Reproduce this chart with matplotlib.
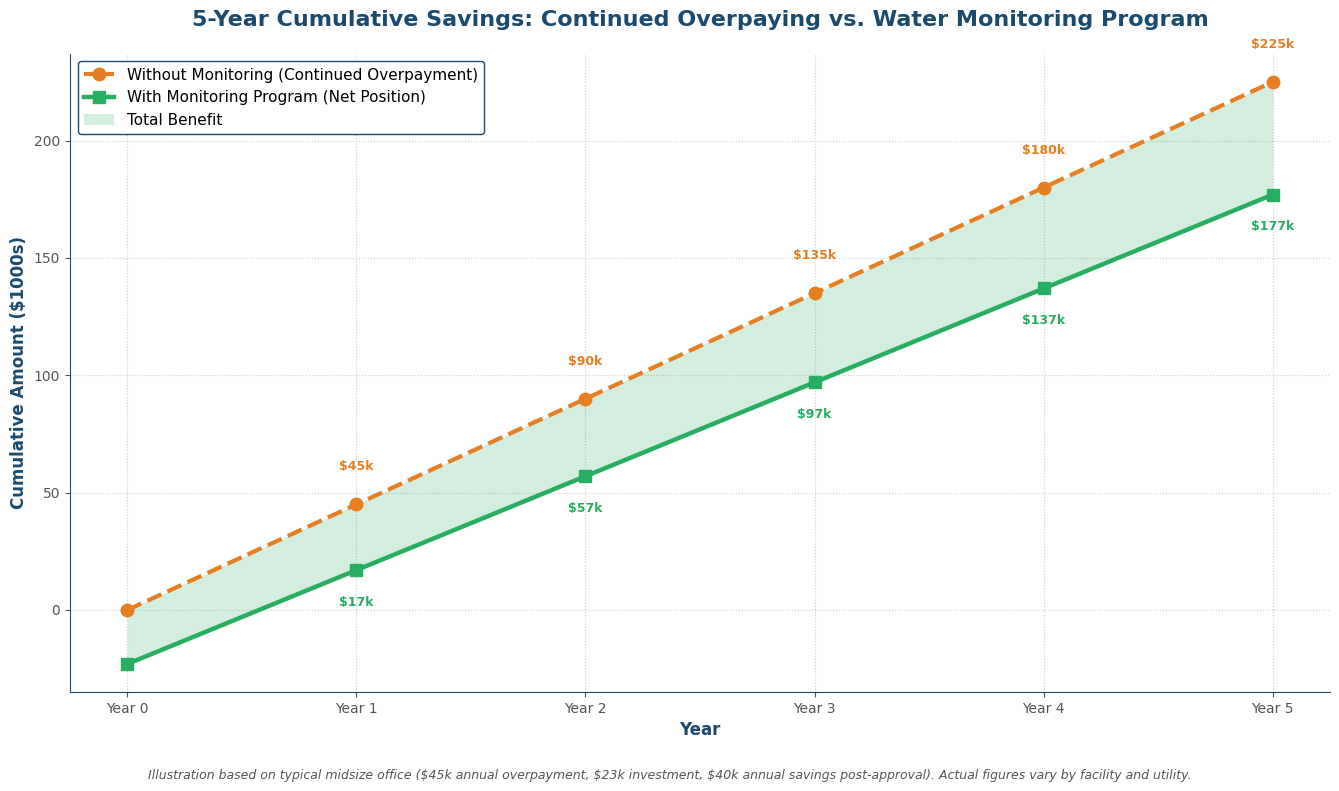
import numpy as np
import matplotlib.pyplot as plt

# ── Data ──────────────────────────────────────────────────────────────
years = ["Year 0", "Year 1", "Year 2", "Year 3", "Year 4", "Year 5"]
without_monitoring = [0, 45, 90, 135, 180, 225]
with_monitoring = [-23, 17, 57, 97, 137, 177]

NAVY = "#1a4a6e"
ORANGE = "#e67e22"
GREEN = "#27ae60"

x = np.arange(len(years))

# ── Figure ────────────────────────────────────────────────────────────
fig = plt.figure(figsize=(13.39, 7.91), dpi=100)
ax = fig.add_axes([0.0523, 0.125, 0.941, 0.807])

ax.fill_between(x, with_monitoring, without_monitoring, color=GREEN, alpha=0.2,
                linewidth=0, label="Total Benefit", zorder=1)
ax.plot(x, without_monitoring, color=ORANGE, linestyle="--", linewidth=3,
        marker="o", markersize=9, label="Without Monitoring (Continued Overpayment)", zorder=3)
ax.plot(x, with_monitoring, color=GREEN, linestyle="-", linewidth=3.2,
        marker="s", markersize=9, label="With Monitoring Program (Net Position)", zorder=3)

for i in range(1, len(years)):
    ax.annotate(f"${without_monitoring[i]}k", (x[i], without_monitoring[i]),
                textcoords="offset points", xytext=(0, 27), ha="center", va="center",
                fontsize=9, fontweight="bold", color=ORANGE)
    ax.annotate(f"${with_monitoring[i]}k", (x[i], with_monitoring[i]),
                textcoords="offset points", xytext=(0, -23), ha="center", va="center",
                fontsize=9, fontweight="bold", color=GREEN)

ax.set_xticks(x)
ax.set_xticklabels(years)
ax.set_xlim(-0.25, 5.25)
ax.set_ylim(-35, 237)
ax.set_yticks([0, 50, 100, 150, 200])
ax.tick_params(colors="#555555", labelsize=10)

ax.set_xlabel("Year", fontsize=12, fontweight="bold", color=NAVY)
ax.set_ylabel("Cumulative Amount ($1000s)", fontsize=12, fontweight="bold", color=NAVY)
ax.set_title("5-Year Cumulative Savings: Continued Overpaying vs. Water Monitoring Program",
             fontsize=16, fontweight="bold", color=NAVY, pad=20)

ax.grid(True, linestyle=":", color="#cccccc", linewidth=0.8)
ax.set_axisbelow(True)
for s in ["top", "right"]:
    ax.spines[s].set_visible(False)
for s in ["left", "bottom"]:
    ax.spines[s].set_color(NAVY)

handles, labels = ax.get_legend_handles_labels()
order = [1, 2, 0]
leg = ax.legend([handles[i] for i in order], [labels[i] for i in order],
                loc="upper left", fontsize=11, frameon=True, framealpha=1)
leg.get_frame().set_edgecolor(NAVY)

fig.text(0.5, 0.015,
         "Illustration based on typical midsize office ($45k annual overpayment, $23k investment, "
         "$40k annual savings post-approval). Actual figures vary by facility and utility.",
         ha="center", fontsize=9, style="italic", color="#555555")

fig.savefig("out.png", dpi=100)
